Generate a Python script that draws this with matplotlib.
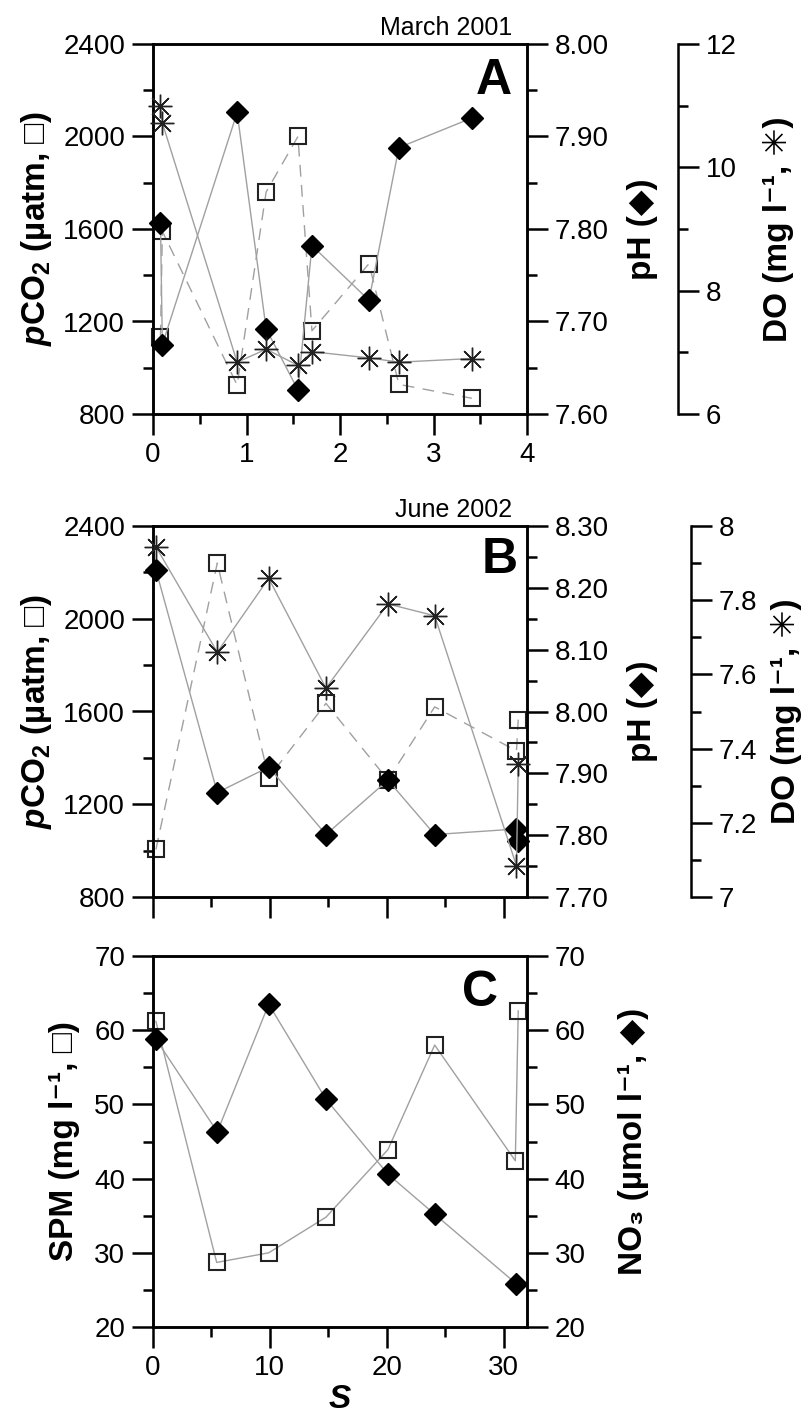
import numpy as np
import matplotlib.pyplot as plt
from matplotlib.ticker import MultipleLocator, FormatStrFormatter

plt.rcParams['font.family'] = ['Liberation Sans', 'DejaVu Sans']
plt.rcParams['mathtext.fontset'] = 'custom'
plt.rcParams['mathtext.rm'] = 'Liberation Sans:bold'
plt.rcParams['mathtext.it'] = 'Liberation Sans:italic:bold'
plt.rcParams['mathtext.bf'] = 'Liberation Sans:bold'

# March 2001 (panel A)
s_a = [0.08, 0.10, 0.90, 1.21, 1.55, 1.70, 2.31, 2.63, 3.41]
pco2_a = [1135, 1590, 925, 1760, 2000, 1160, 1450, 928, 868]
ph_a = [7.807, 7.675, 7.926, 7.692, 7.626, 7.782, 7.723, 7.888, 7.920]
do_a = [10.99, 10.72, 6.84, 7.05, 6.79, 7.01, 6.91, 6.84, 6.90]

# June 2002 (panel B)
s_b = [0.25, 5.5, 9.9, 14.8, 20.1, 24.1, 31.1, 31.25]
pco2_b = [1005, 2240, 1315, 1635, 1305, 1620, 1430, 1565]
ph_b = [8.229, 7.869, 7.910, 7.801, 7.889, 7.801, 7.810, 7.790]
do_b = [7.944, 7.660, 7.859, 7.563, 7.790, 7.758, 7.084, 7.358]

# June 2002 (panel C)
s_c = [0.25, 5.45, 9.9, 14.8, 20.1, 24.1, 31.0, 31.25]
spm_c = [61.2, 28.7, 30.0, 34.8, 43.9, 58.0, 42.4, 62.6]
s_no3 = [0.25, 5.5, 9.9, 14.8, 20.1, 24.1, 31.1]
no3_c = [58.8, 46.3, 63.5, 50.7, 40.6, 35.2, 25.8]

LINE = '#a0a0a0'
EDGE = '#222222'

fig = plt.figure(figsize=(8.1, 14.22), dpi=100)
W, H = 810, 1422


def px_axes(left, top, right, bottom):
    return fig.add_axes([left / W, 1 - bottom / H, (right - left) / W, (bottom - top) / H])


def style(ax):
    for sp in ax.spines.values():
        sp.set_linewidth(1.8)
    ax.tick_params(which='both', direction='out', width=1.8, labelsize=20, pad=5)
    ax.tick_params(which='major', length=15)
    ax.tick_params(which='minor', length=7.5)


def squares(ax, x, y, dashed):
    ls = (0, (8.5, 6)) if dashed else '-'
    ax.plot(x, y, color=LINE, lw=1, ls=ls, zorder=1)
    ax.plot(x, y, ls='none', marker='s', ms=12, mfc='none', mec=EDGE, mew=1.5,
            clip_on=False, zorder=3)


def diamonds(ax, x, y):
    ax.plot(x, y, color=LINE, lw=1, zorder=1)
    ax.plot(x, y, ls='none', marker='D', ms=11, color='black', clip_on=False, zorder=3)


def stars(ax, x, y):
    ax.plot(x, y, color=LINE, lw=1, zorder=1)
    ax.plot(x, y, ls='none', marker=(8, 2, 0), ms=17, mec=EDGE, mew=1,
            clip_on=False, zorder=3)


def do_axis(ax, pos):
    axd = ax.twinx()
    axd.spines['right'].set_position(('axes', pos))
    for sp in ['left', 'top', 'bottom']:
        axd.spines[sp].set_visible(False)
    style(axd)
    return axd


pco2_label = r'$\mathit{p}$CO$_2$ (µatm, □)'
do_label = 'DO (mg l⁻¹, ✳)'
LBL = dict(fontsize=24, fontweight='bold')

# ---------- panel A ----------
ax_a = px_axes(153, 44, 527, 414)
style(ax_a)
ax_a.set_xlim(0, 4)
ax_a.set_ylim(800, 2400)
ax_a.xaxis.set_major_locator(MultipleLocator(1))
ax_a.xaxis.set_minor_locator(MultipleLocator(0.5))
ax_a.yaxis.set_major_locator(MultipleLocator(400))
ax_a.yaxis.set_minor_locator(MultipleLocator(200))
squares(ax_a, s_a, pco2_a, True)
ax_a.set_ylabel(pco2_label, **LBL)
ax_a.yaxis.set_label_coords(-0.265, 0.5)

axp_a = ax_a.twinx()
style(axp_a)
axp_a.set_ylim(7.60, 8.00)
axp_a.yaxis.set_major_locator(MultipleLocator(0.1))
axp_a.yaxis.set_minor_locator(MultipleLocator(0.05))
axp_a.yaxis.set_major_formatter(FormatStrFormatter('%.2f'))
diamonds(axp_a, s_a, ph_a)
axp_a.set_ylabel('pH (◆)', **LBL)
axp_a.yaxis.set_label_coords(1.267, 0.5)

axd_a = do_axis(ax_a, 1.404)
axd_a.set_ylim(6, 12)
axd_a.yaxis.set_major_locator(MultipleLocator(2))
axd_a.yaxis.set_minor_locator(MultipleLocator(1))
stars(axd_a, s_a, do_a)
axd_a.set_ylabel(do_label, **LBL)
axd_a.yaxis.set_label_coords(1.631, 0.5)

ax_a.text(0.96, 1.012, 'March 2001', transform=ax_a.transAxes, ha='right',
          va='bottom', fontsize=18)
axd_a.text(0.96, 0.962, 'A', transform=ax_a.transAxes, ha='right', va='top',
           fontsize=36, fontweight='bold')

# ---------- panel B ----------
ax_b = px_axes(153, 526, 527, 897)
style(ax_b)
ax_b.set_xlim(0, 32)
ax_b.set_ylim(800, 2400)
ax_b.xaxis.set_major_locator(MultipleLocator(10))
ax_b.xaxis.set_minor_locator(MultipleLocator(5))
ax_b.yaxis.set_major_locator(MultipleLocator(400))
ax_b.yaxis.set_minor_locator(MultipleLocator(200))
ax_b.tick_params(labelbottom=False)
squares(ax_b, s_b, pco2_b, True)
ax_b.set_ylabel(pco2_label, **LBL)
ax_b.yaxis.set_label_coords(-0.265, 0.5)

axp_b = ax_b.twinx()
style(axp_b)
axp_b.set_ylim(7.70, 8.30)
axp_b.yaxis.set_major_locator(MultipleLocator(0.1))
axp_b.yaxis.set_minor_locator(MultipleLocator(0.05))
axp_b.yaxis.set_major_formatter(FormatStrFormatter('%.2f'))
diamonds(axp_b, s_b, ph_b)
axp_b.set_ylabel('pH (◆)', **LBL)
axp_b.yaxis.set_label_coords(1.267, 0.5)

axd_b = do_axis(ax_b, 1.438)
axd_b.set_ylim(7, 8)
axd_b.yaxis.set_major_locator(MultipleLocator(0.2))
axd_b.yaxis.set_minor_locator(MultipleLocator(0.1))
axd_b.yaxis.set_major_formatter(FormatStrFormatter('%g'))
stars(axd_b, s_b, do_b)
axd_b.set_ylabel(do_label, **LBL)
axd_b.yaxis.set_label_coords(1.652, 0.5)

ax_b.text(0.96, 1.012, 'June 2002', transform=ax_b.transAxes, ha='right',
          va='bottom', fontsize=18)
axd_b.text(0.976, 0.970, 'B', transform=ax_b.transAxes, ha='right', va='top',
           fontsize=36, fontweight='bold')

# ---------- panel C ----------
ax_c = px_axes(153, 956, 527, 1327)
style(ax_c)
ax_c.set_xlim(0, 32)
ax_c.set_ylim(20, 70)
ax_c.xaxis.set_major_locator(MultipleLocator(10))
ax_c.xaxis.set_minor_locator(MultipleLocator(5))
ax_c.yaxis.set_major_locator(MultipleLocator(10))
ax_c.yaxis.set_minor_locator(MultipleLocator(5))
squares(ax_c, s_c, spm_c, False)
ax_c.set_ylabel('SPM (mg l⁻¹, □)', **LBL)
ax_c.yaxis.set_label_coords(-0.195, 0.5)
ax_c.set_xlabel('S', fontsize=24, fontweight='bold', fontstyle='italic', labelpad=2)

axn_c = ax_c.twinx()
style(axn_c)
axn_c.set_ylim(20, 70)
axn_c.yaxis.set_major_locator(MultipleLocator(10))
axn_c.yaxis.set_minor_locator(MultipleLocator(5))
diamonds(axn_c, s_no3, no3_c)
axn_c.set_ylabel('NO₃ (µmol l⁻¹, ◆)', **LBL)
axn_c.yaxis.set_label_coords(1.243, 0.5)
axn_c.text(0.922, 0.962, 'C', transform=ax_c.transAxes, ha='right', va='top',
           fontsize=36, fontweight='bold')

fig.savefig('out.png', dpi=100)
